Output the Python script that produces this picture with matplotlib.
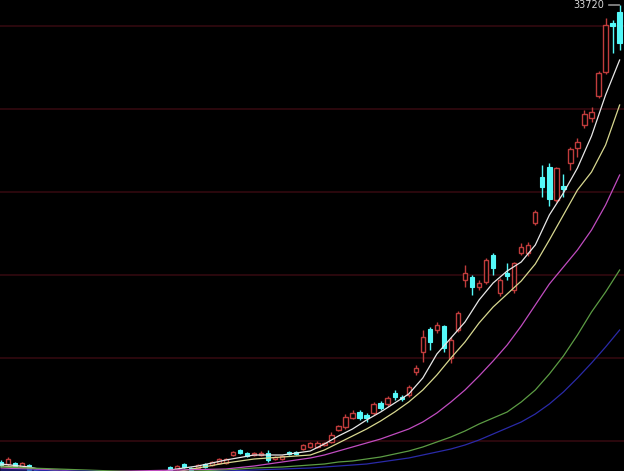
import numpy as np
import matplotlib
matplotlib.use("Agg")
import matplotlib.pyplot as plt

# daily k-line data (index points)
opens = [6300, 6180, 6240, 6000, 6120, 5820, 5520, 5640, 5400, 5220,
         5340, 5040, 5220, 4980, 4800, 4980, 4740, 4860, 5040, 4860,
         5100, 5280, 5340, 5460, 6000, 5880, 6180, 5940, 5940, 6180,
         6120, 6240, 6240, 6720, 7020, 6840, 6720, 6720, 6840, 6480,
         6480, 6900, 6900, 7080, 7200, 7200, 7320, 7500, 8220, 8400,
         8940, 9300, 9120, 9240, 9840, 9780, 10440, 10200, 10320, 11700,
         12900, 14280, 14220, 14460, 12540, 14220, 17220, 17400, 16800, 17100,
         18720, 16440, 17640, 16620, 18840, 18840, 20640, 23400, 24000, 22020,
         22860, 24240, 25140, 26520, 26940, 28260, 29700, 32640, 33300]
closes = [6120, 6480, 6060, 6240, 5820, 5580, 5700, 5400, 5280, 5340,
          5100, 5220, 4980, 4860, 4980, 4800, 4920, 5040, 4920, 5160,
          5340, 5460, 5520, 5640, 5820, 6060, 6000, 5820, 6120, 6000,
          6300, 6480, 6480, 6900, 6840, 6660, 6840, 6840, 6420, 6600,
          6660, 6780, 6780, 7320, 7440, 7440, 7440, 7920, 8460, 9000,
          9240, 8940, 8940, 9780, 9540, 10140, 10200, 10080, 10800, 11940,
          13800, 13500, 14520, 13140, 13620, 15240, 17640, 16800, 17040, 18420,
          17940, 17220, 17460, 18240, 19200, 19320, 21300, 22800, 22080, 23940,
          22680, 25080, 25500, 27180, 27300, 29640, 32520, 32460, 31440]
highs = [6420, 6600, 6300, 6300, 6180, 5880, 5760, 5700, 5460, 5400,
         5400, 5280, 5280, 5040, 5040, 5040, 4980, 5100, 5100, 5220,
         5400, 5520, 5580, 5700, 6060, 6120, 6240, 6000, 6180, 6240,
         6360, 6540, 6540, 6960, 7080, 6900, 6900, 6960, 7020, 6660,
         6720, 6960, 6960, 7380, 7500, 7560, 7500, 8100, 8520, 9180,
         9420, 9420, 9240, 9900, 9960, 10260, 10620, 10320, 10920, 12120,
         14220, 14400, 14700, 14520, 13800, 15360, 18120, 17520, 17220, 18540,
         18840, 17340, 18240, 18300, 19440, 19500, 21420, 24120, 24240, 24000,
         23580, 25200, 25740, 27420, 27600, 29760, 32940, 32820, 33720]
lows = [6000, 6060, 5940, 5940, 5700, 5460, 5400, 5280, 5160, 5100,
        4980, 4920, 4860, 4740, 4740, 4680, 4680, 4800, 4860, 4800,
        5040, 5220, 5280, 5400, 5700, 5820, 5940, 5760, 5880, 5940,
        6060, 6180, 6180, 6660, 6780, 6600, 6660, 6660, 6300, 6420,
        6420, 6720, 6720, 7020, 7140, 7140, 7260, 7440, 8160, 8280,
        8880, 8820, 8700, 9120, 9420, 9660, 10020, 9960, 10200, 11520,
        12300, 13020, 14040, 12900, 12240, 14100, 16800, 16320, 16620, 16980,
        17520, 16260, 17220, 16440, 18720, 18660, 20520, 22200, 21660, 21900,
        22200, 23820, 24600, 26340, 26700, 28140, 29580, 30840, 31020]

# moving averages (every 4th bar, then every 2nd)
ma_idx = list(range(0, 44, 4)) + list(range(44, 89, 2))
ma5 = [6180, 6000, 5640, 5400, 5220, 5400, 5820, 6060, 6420, 6720, 6720,
       6960, 7380, 7860, 8280, 8820, 9300, 9840, 10380, 11340, 12780, 13740, 14700,
       16020, 17040, 17760, 18300, 19320, 21120, 22440, 23940, 25860, 28320, 30420]
ma10 = [6060, 5940, 5760, 5520, 5340, 5280, 5640, 5940, 6240, 6480, 6600,
        6720, 7020, 7440, 7860, 8280, 8760, 9300, 9900, 10620, 11520, 12540, 13500,
        14640, 15600, 16380, 17160, 18180, 19620, 21120, 22620, 23700, 25320, 27720]
ma20 = [5940, 5880, 5820, 5700, 5580, 5520, 5580, 5700, 5880, 6060, 6300,
        6540, 6720, 6960, 7200, 7440, 7680, 7980, 8280, 8700, 9240, 9900, 10620,
        11460, 12360, 13320, 14460, 15720, 16980, 18000, 19020, 20220, 21720, 23520]
ma30 = [6000, 5940, 5880, 5820, 5760, 5700, 5700, 5760, 5820, 5940, 6000,
        6120, 6180, 6300, 6360, 6480, 6600, 6780, 6960, 7200, 7500, 7800, 8160,
        8580, 8940, 9300, 9900, 10620, 11580, 12660, 13920, 15300, 16500, 17820]
ma60 = [5820, 5820, 5760, 5760, 5700, 5700, 5700, 5700, 5760, 5820, 5880,
        5940, 6000, 6060, 6120, 6180, 6300, 6420, 6540, 6720, 6900, 7080, 7320,
        7620, 7980, 8340, 8700, 9180, 9780, 10500, 11340, 12240, 13200, 14220]

grid_levels = [7590, 12570, 17550, 22530, 27510, 32490]

up_color = '#c03c3c'
down_color = '#54f8f8'

o = np.array(opens)
c = np.array(closes)
h = np.array(highs)
l = np.array(lows)
x = np.arange(len(o))
up = c > o
body_lo = np.minimum(o, c)
body_hi = np.maximum(o, c)
cols = np.where(up, up_color, down_color)

fig = plt.figure(figsize=(6.24, 4.71), dpi=100, facecolor='black')
ax = fig.add_axes([0, 0, 1, 1])
ax.set_facecolor('black')

for g in grid_levels:
    ax.axhline(g, color='#360a10', lw=1.1, zorder=1)

ax.vlines(x, l, body_lo, colors=cols, lw=1, zorder=2)
ax.vlines(x, body_hi, h, colors=cols, lw=1, zorder=2)
ax.bar(x[up], (body_hi - body_lo)[up], bottom=body_lo[up], width=0.62,
       facecolor='black', edgecolor=up_color, lw=1, zorder=2)
ax.bar(x[~up], (body_hi - body_lo)[~up], bottom=body_lo[~up], width=0.62,
       facecolor=down_color, edgecolor=down_color, lw=0.8, zorder=2)

ax.plot(ma_idx, ma5, color='#e8e8e8', lw=0.9, zorder=3)
ax.plot(ma_idx, ma10, color='#d8d890', lw=0.9, zorder=3)
ax.plot(ma_idx, ma20, color='#c04cc0', lw=0.9, zorder=3)
ax.plot(ma_idx, ma30, color='#5c9c44', lw=0.9, zorder=3)
ax.plot(ma_idx, ma60, color='#2a2aa8', lw=0.9, zorder=3)

top = int(np.argmax(h))
ax.annotate(str(h[top]), xy=(top, h[top]), xytext=(-11, 0), textcoords='offset points',
            ha='right', va='center', color='#d8d8d8', fontsize=7,
            arrowprops=dict(arrowstyle='-', color='#d8d8d8', lw=0.8, shrinkA=1, shrinkB=0))

ax.set_xlim(-0.142, 88.62)
ax.set_ylim(5760, 34020)
ax.axis('off')

fig.savefig('out.png', dpi=100, facecolor='black')
